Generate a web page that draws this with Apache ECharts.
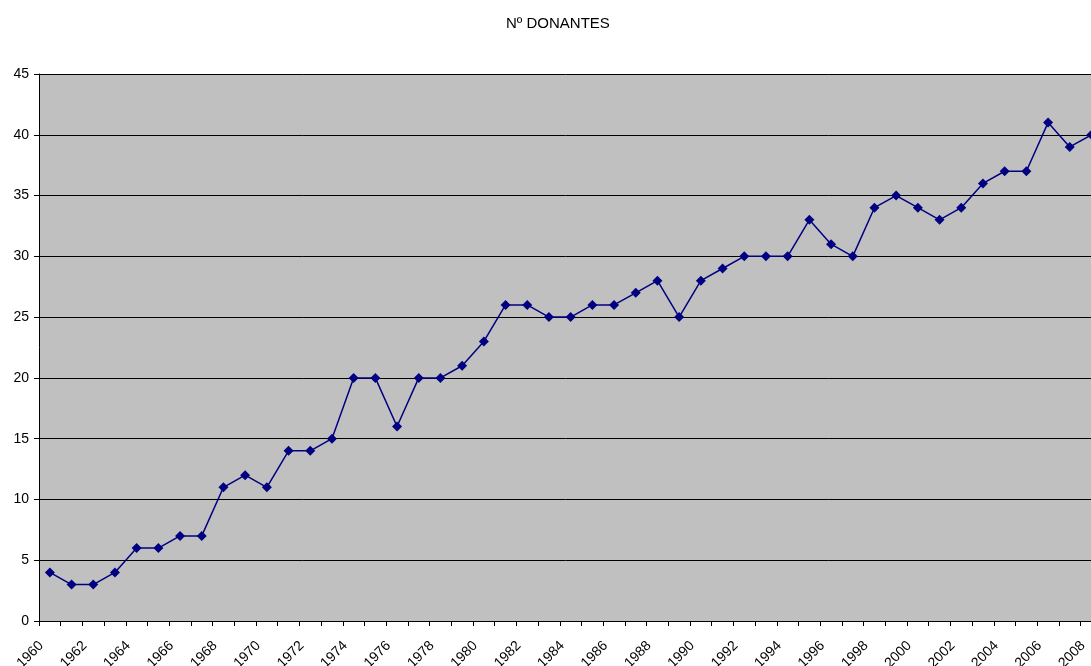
<!DOCTYPE html>
<html><head><meta charset="utf-8">
<script src="https://cdn.jsdelivr.net/npm/echarts@6/dist/echarts.min.js"></script>
<style>html,body{margin:0;padding:0;background:#fff}#c{width:1091px;height:666px}</style>
</head><body><div id="c"></div>
<script>
const years = ["1960","1961","1962","1963","1964","1965","1966","1967","1968","1969","1970","1971","1972","1973","1974","1975","1976","1977","1978","1979","1980","1981","1982","1983","1984","1985","1986","1987","1988","1989","1990","1991","1992","1993","1994","1995","1996","1997","1998","1999","2000","2001","2002","2003","2004","2005","2006","2007","2008"];
const donantes = [4,3,3,4,6,6,7,7,11,12,11,14,14,15,20,20,16,20,20,21,23,26,26,25,25,26,26,27,28,25,28,29,30,30,30,33,31,30,34,35,34,33,34,36,37,37,41,39,40];
const titleText = "Nº DONANTES";

const chart = echarts.init(document.getElementById('c'), null, {renderer:'canvas'});
chart.setOption({
  animation: false,
  backgroundColor: '#ffffff',
  title: {
    text: titleText, left: 501, top: 11,
    textStyle: {fontFamily: 'Liberation Sans, Arial', fontSize: 15, fontWeight: 'normal', color: '#000'}
  },
  grid: {left: 39, top: 74, width: 1063.3, height: 547, containLabel: false, outerBoundsMode: 'none',
         show: true, backgroundColor: '#C0C0C0', borderWidth: 0},
  xAxis: {
    type: 'category', data: years, boundaryGap: true,
    axisLine: {show: true, lineStyle: {color: '#000', width: 1}},
    axisTick: {show: true, interval: 0, length: 5, lineStyle: {color: '#000'}},
    axisLabel: {interval: 1, rotate: 45, margin: 14, padding: [0, 12, 0, 0], fontFamily: 'Liberation Sans, Arial', fontSize: 14, color: '#000'},
    splitLine: {show: false}
  },
  yAxis: {
    type: 'value', min: 0, max: 45, interval: 5,
    axisLine: {show: true, lineStyle: {color: '#000', width: 1}},
    axisTick: {show: true, length: 5, lineStyle: {color: '#000'}},
    axisLabel: {margin: 10, fontFamily: 'Liberation Sans, Arial', fontSize: 14, color: '#000'},
    splitLine: {show: true, lineStyle: {color: '#000', width: 1}}
  },
  series: [{
    type: 'line', data: donantes,
    symbol: 'diamond', symbolSize: 10,
    lineStyle: {color: '#000080', width: 1.5},
    itemStyle: {color: '#000080'}
  }]
});
</script></body></html>
